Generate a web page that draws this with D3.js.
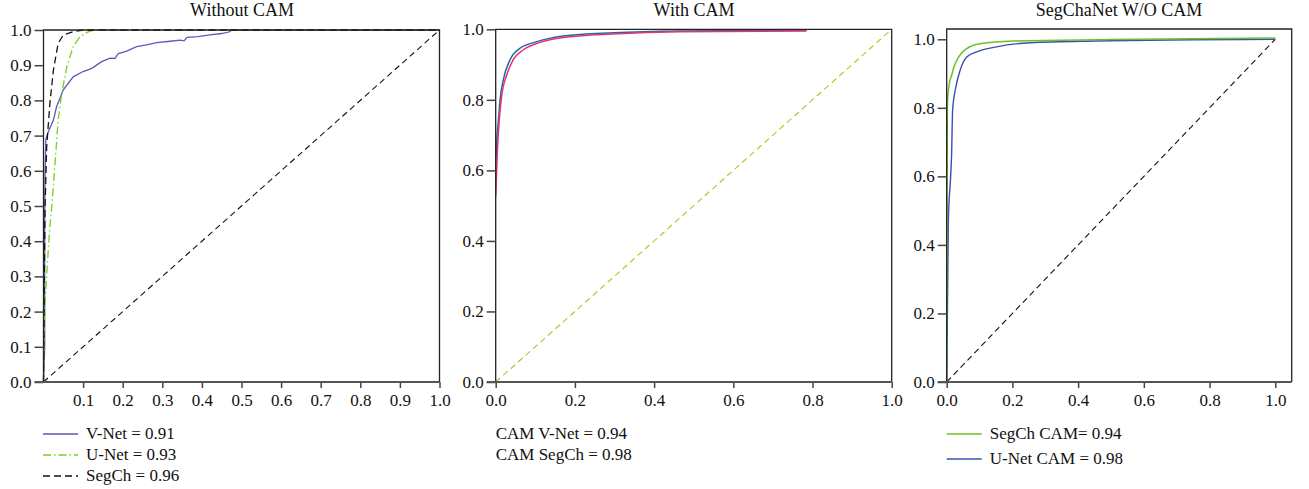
<!DOCTYPE html>
<html>
<head>
<meta charset="utf-8">
<script src="https://cdn.jsdelivr.net/npm/d3@7"></script>
<style>
  body { margin: 0; background: #fff; }
  svg text { font-family: "Liberation Serif", "Times New Roman", serif !important; fill: #111; }
</style>
</head>
<body>
<svg id="chart" width="1309" height="489"></svg>
<script>
// panel 1 - without CAM
var vnet = [[0,0],[0.003,0.1],[0.003,0.45],[0.004,0.6],[0.006,0.69],[0.012,0.71],[0.025,0.744],[0.033,0.782],
  [0.05,0.83],[0.075,0.867],[0.1,0.882],[0.122,0.891],[0.147,0.91],[0.168,0.92],[0.18,0.919],[0.189,0.933],
  [0.21,0.94],[0.235,0.953],[0.26,0.958],[0.286,0.964],[0.32,0.968],[0.345,0.971],[0.355,0.969],[0.362,0.979],
  [0.39,0.981],[0.42,0.986],[0.45,0.99],[0.47,0.995],[0.475,1],[1,1]];
var unet = [[0,0],[0.003,0.2],[0.004,0.23],[0.008,0.3],[0.012,0.375],[0.016,0.44],[0.021,0.5],[0.029,0.62],
  [0.037,0.744],[0.046,0.82],[0.059,0.896],[0.075,0.953],[0.092,0.981],[0.11,0.993],[0.122,0.998],[0.14,1],[1,1]];
var segch = [[0,0],[0.002,0.3],[0.004,0.5],[0.008,0.668],[0.016,0.79],[0.025,0.886],[0.037,0.962],
  [0.05,0.986],[0.075,0.995],[0.1,1],[1,1]];

// panel 2 - with CAM
var camVnet = [[0,0.62],[0.003,0.69],[0.007,0.743],[0.011,0.8],[0.019,0.856],[0.036,0.913],[0.061,0.946],
  [0.104,0.965],[0.171,0.981],[0.297,0.99],[0.465,0.995],[0.785,0.997]];
var camSegch = [[0,0.525],[0.004,0.648],[0.009,0.743],[0.015,0.81],[0.028,0.871],[0.044,0.913],[0.07,0.942],
  [0.112,0.963],[0.18,0.978],[0.297,0.987],[0.465,0.993],[0.785,0.995]];

// panel 3 - SegChaNet W/O CAM
var segchCam = [[0,0],[0.0005,0.47],[0.002,0.812],[0.008,0.871],[0.015,0.895],[0.022,0.919],[0.036,0.948],
  [0.061,0.973],[0.101,0.987],[0.203,0.995],[0.5,0.999],[1,1.004]];
var unetCam = [[0,0],[0.005,0.47],[0.012,0.6],[0.015,0.667],[0.018,0.793],[0.028,0.861],[0.041,0.91],
  [0.061,0.948],[0.091,0.963],[0.152,0.978],[0.254,0.99],[0.457,0.995],[1,1]];

var diagonal = [[0,0],[1,1]];

var titles = ["Without CAM", "With CAM", "SegChaNet W/O CAM"];
var xTicks1 = [0.1,0.2,0.3,0.4,0.5,0.6,0.7,0.8,0.9,1.0];
var yTicks1 = [0,0.1,0.2,0.3,0.4,0.5,0.6,0.7,0.8,0.9,1.0];
var ticks2 = [0,0.2,0.4,0.6,0.8,1.0];

var panels = [
  { left: 43.5, right: 439.5, top: 30, bottom: 382, xd: [0,1], yd: [0,1],
    xt: xTicks1, yt: yTicks1, title: titles[0], tx: 242, ty: 15.5, curve: d3.curveLinear,
    series: [
      { d: diagonal, c: "#111", w: 1.1, dash: "6,4" },
      { d: vnet, c: "#5a5ab8", w: 1.3 },
      { d: unet, c: "#7dcc1e", w: 1.3, dash: "8,3,1.5,3" },
      { d: segch, c: "#111", w: 1.3, dash: "7,4" }
    ],
    legend: [
      { label: "V-Net = 0.91", c: "#5a5ab8", dash: null },
      { label: "U-Net = 0.93", c: "#7dcc1e", dash: "8,3,1.5,3" },
      { label: "SegCh = 0.96", c: "#111", dash: "7,4" }
    ], lx: 43, ly: 434, lstep: 21, lline: 35 },
  { left: 495.7, right: 891.7, top: 29.3, bottom: 382, xd: [0,1], yd: [0,1],
    xt: ticks2, yt: ticks2, title: titles[1], tx: 694, ty: 15.5, curve: d3.curveMonotoneX,
    series: [
      { d: diagonal, c: "#a6d12a", w: 1.2, dash: "6,4" },
      { d: camVnet, c: "#1f6a9a", w: 1.5 },
      { d: camSegch, c: "#e6327c", w: 1.5 }
    ],
    legend: [
      { label: "CAM V-Net = 0.94" },
      { label: "CAM SegCh = 0.98" }
    ], lx: 495.7, ly: 434, lstep: 21, lline: 0 },
  { left: 946.7, right: 1291.7, top: 29, bottom: 382, xd: [0,1.05], yd: [0,1.03],
    xt: ticks2, yt: ticks2, title: titles[2], tx: 1119, ty: 15.5, curve: d3.curveMonotoneX,
    series: [
      { d: diagonal, c: "#111", w: 1.1, dash: "6,4" },
      { d: unetCam, c: "#3b4fb0", w: 1.4 },
      { d: segchCam, c: "#6cc024", w: 1.5 }
    ],
    legend: [
      { label: "SegCh CAM= 0.94", c: "#6cc024" },
      { label: "U-Net CAM = 0.98", c: "#3b4fb0" }
    ], lx: 946.7, ly: 434, lstep: 25, lline: 35 }
];

var svg = d3.select("#chart");
svg.append("rect").attr("width", 1309).attr("height", 489).attr("fill", "#fff");

panels.forEach(function(p){
  var x = d3.scaleLinear().domain(p.xd).range([p.left, p.right]);
  var y = d3.scaleLinear().domain(p.yd).range([p.bottom, p.top]);
  var g = svg.append("g");

  var line = d3.line().curve(p.curve)
    .x(function(d){ return x(d[0]); }).y(function(d){ return y(d[1]); });

  p.series.forEach(function(s){
    g.append("path").datum(s.d)
      .attr("d", line)
      .attr("fill", "none")
      .attr("stroke", s.c)
      .attr("stroke-width", s.w)
      .attr("stroke-dasharray", s.dash || null);
  });

  // frame
  g.append("path")
    .attr("d", "M" + p.left + "," + p.bottom + "V" + p.top + "H" + p.right + "V" + p.bottom)
    .attr("fill", "none").attr("stroke", "#222").attr("stroke-width", 1.3);

  var xa = g.append("g").attr("transform", "translate(0," + p.bottom + ")")
    .call(d3.axisBottom(x).tickValues(p.xt).tickFormat(d3.format(".1f")).tickSize(6).tickPadding(6));
  var ya = g.append("g").attr("transform", "translate(" + p.left + ",0)")
    .call(d3.axisLeft(y).tickValues(p.yt).tickFormat(d3.format(".1f")).tickSize(9).tickPadding(3));
  [xa, ya].forEach(function(a){
    a.attr("font-family", null).attr("font-size", null);
    a.select(".domain").remove();
    a.selectAll(".tick line").attr("stroke", "#444").attr("stroke-width", 1.5);
    a.selectAll("text").style("font-size", "17px").attr("fill", "#111");
  });
  // bottom axis line
  g.append("line")
    .attr("x1", p.left - 9).attr("x2", p.right)
    .attr("y1", p.bottom).attr("y2", p.bottom)
    .attr("stroke", "#555").attr("stroke-width", 2);

  g.append("text").attr("x", p.tx).attr("y", p.ty)
    .attr("text-anchor", "middle").style("font-size", "18px").text(p.title);

  p.legend.forEach(function(l, i){
    var ly = p.ly + i * p.lstep;
    if (p.lline > 0) {
      g.append("line").attr("x1", p.lx).attr("x2", p.lx + p.lline)
        .attr("y1", ly).attr("y2", ly)
        .attr("stroke", l.c).attr("stroke-width", 1.4)
        .attr("stroke-dasharray", l.dash || null);
    }
    g.append("text")
      .attr("x", p.lline > 0 ? p.lx + p.lline + 8 : p.lx)
      .attr("y", ly + 5)
      .style("font-size", "17px")
      .text(l.label);
  });
});
</script>
</body>
</html>
